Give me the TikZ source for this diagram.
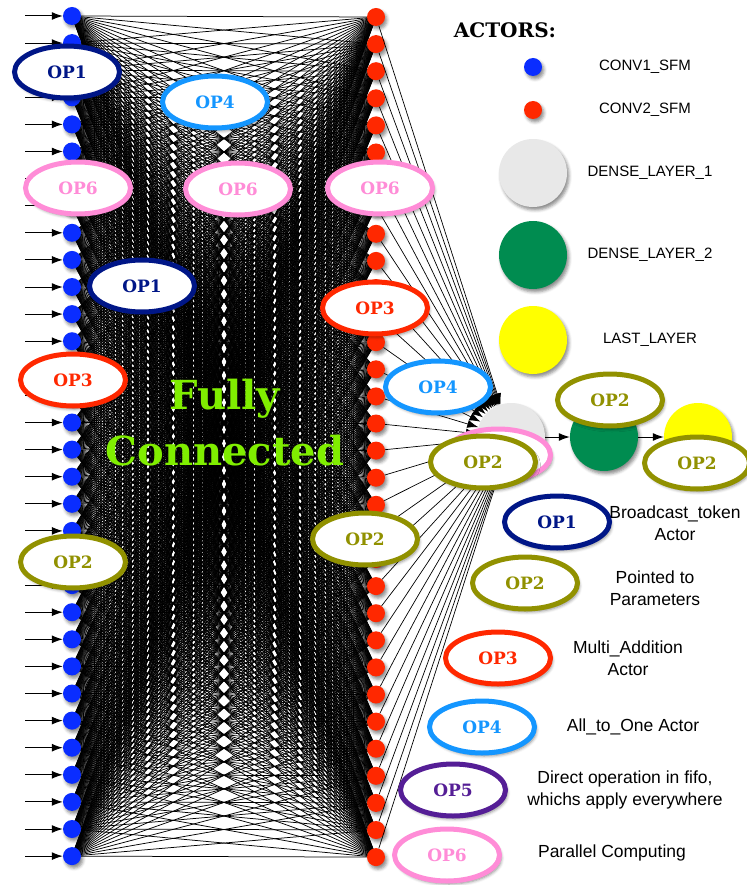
\documentclass[tikz,border=0pt]{standalone}
\usepackage{fontspec}
\setmainfont{Liberation Sans}
\newfontfamily\opfont{DejaVu Serif}
\usetikzlibrary{positioning, arrows.meta, shapes.geometric, shadows.blur}

\definecolor{convblue}{RGB}{10,45,255}
\definecolor{convred}{RGB}{255,40,0}
\definecolor{opnavy}{RGB}{0,22,135}
\definecolor{opolive}{RGB}{145,145,0}
\definecolor{opred}{RGB}{255,40,0}
\definecolor{opsky}{RGB}{20,150,255}
\definecolor{oppurple}{RGB}{85,30,150}
\definecolor{oppink}{RGB}{255,140,215}
\definecolor{densegray}{RGB}{232,232,232}
\definecolor{densegreen}{RGB}{0,140,80}
\definecolor{lastyellow}{RGB}{255,255,0}
\definecolor{fullgreen}{RGB}{128,238,0}

\begin{document}
\begin{tikzpicture}[x=1pt, y=-1pt, >={Latex[length=11pt, width=8pt]},
  soft/.style={blur shadow={shadow xshift=2pt, shadow yshift=-3pt, shadow blur radius=3pt, shadow opacity=45}},
  dot/.style={circle, minimum size=18pt, inner sep=0pt, soft},
  layer/.style={circle, minimum size=68pt, inner sep=0pt, soft},
  op/.style={ellipse, draw=#1, line width=5pt, fill=white, text=#1, minimum width=105pt, minimum height=52pt, inner sep=0pt, font=\opfont\bfseries\fontsize{17}{17}\selectfont, soft},
  key/.style={font=\fontsize{15}{18}\selectfont},
  keyop/.style={font=\fontsize{17.5}{22}\selectfont, align=center}]
  \useasboundingbox (0,0) rectangle (746,885);

  % positions of the two convolution columns
  \foreach \i in {1,...,32} {
    \coordinate (b\i) at (72, {16+(\i-1)*27.1});
    \coordinate (r\i) at (376, {17+(\i-1)*27.1});
  }

  % every blue dot to every red dot
  \foreach \i in {1,...,32}
    \foreach \j in {1,...,32}
      \draw[line width=0.75pt] (b\i) -- (r\j);

  \foreach \i in {1,...,32} {
    \node[dot, fill=convblue] (bdot\i) at (b\i) {};
    \node[dot, fill=convred] (rdot\i) at (r\i) {};
    \coordinate (in\i) at (25, {16+(\i-1)*27.1});
    \draw[->, line width=1pt] (in\i) -- (bdot\i);
  }

  \node[font=\opfont\bfseries\fontsize{40}{40}\selectfont, text=fullgreen, anchor=base] (fully) at (225, 409) {Fully};
  \node[font=\opfont\bfseries\fontsize{40}{40}\selectfont, text=fullgreen, anchor=base] (connected) at (225, 465) {Connected};

  % dense layers
  \node[layer, fill=densegray] (dense1) at (511, 437) {};
  \foreach \j in {1,...,32}
    \draw[->, line width=0.7pt] (rdot\j) -- (dense1);
  \node[layer, fill=densegreen] (dense2) at (604, 437) {};
  \node[layer, fill=lastyellow] (last) at (698, 437) {};
  \draw[->, line width=1pt] (dense1) -- (dense2);
  \draw[->, line width=1pt] (dense2) -- (last);

  % operations on the network
  \node[op=opnavy] (op1a) at (67, 72) {OP1};
  \node[op=opsky] (op4a) at (215, 102) {OP4};
  \node[op=oppink] (op6a) at (78, 188) {OP6};
  \node[op=oppink] (op6b) at (238, 189) {OP6};
  \node[op=oppink] (op6c) at (380, 188) {OP6};
  \node[op=opnavy] (op1b) at (142, 286) {OP1};
  \node[op=opred] (op3a) at (375, 308) {OP3};
  \node[op=opred] (op3b) at (73, 380) {OP3};
  \node[op=opsky] (op4b) at (438, 387) {OP4};
  \node[op=opolive] (op2a) at (73, 562) {OP2};
  \node[op=opolive] (op2b) at (365, 539) {OP2};
  \node[op=oppink] (op6d) at (498, 455) {};
  \node[op=opolive] (op2c) at (483, 462) {OP2};
  \node[op=opolive] (op2d) at (610, 400) {OP2};
  \node[op=opolive] (op2e) at (697, 463) {OP2};

  % legend
  \node[font=\opfont\bfseries\fontsize{20}{20}\selectfont] (actors) at (505, 30) {ACTORS:};
  \node[dot, fill=convblue] (keyconv1) at (533, 67) {};
  \node[key] (keyconv1txt) at (645, 67) {CONV1\_SFM};
  \node[dot, fill=convred] (keyconv2) at (533, 110) {};
  \node[key] (keyconv2txt) at (645, 110) {CONV2\_SFM};
  \node[layer, fill=densegray] (keydense1) at (533, 173) {};
  \node[key] (keydense1txt) at (650, 173) {DENSE\_LAYER\_1};
  \node[layer, fill=densegreen] (keydense2) at (533, 255) {};
  \node[key] (keydense2txt) at (650, 255) {DENSE\_LAYER\_2};
  \node[layer, fill=lastyellow] (keylast) at (533, 340) {};
  \node[key] (keylasttxt) at (650, 340) {LAST\_LAYER};

  \node[op=opnavy] (keyop1) at (557, 522) {OP1};
  \node[keyop] (keyop1txt) at (675, 523) {Broadcast\_token\\Actor};
  \node[op=opolive] (keyop2) at (525, 583) {OP2};
  \node[keyop] (keyop2txt) at (655, 588) {Pointed to\\Parameters};
  \node[op=opred] (keyop3) at (498, 658) {OP3};
  \node[keyop] (keyop3txt) at (628, 658) {Multi\_Addition\\Actor};
  \node[op=opsky] (keyop4) at (482, 727) {OP4};
  \node[keyop] (keyop4txt) at (633, 727) {All\_to\_One Actor};
  \node[op=oppurple] (keyop5) at (453, 790) {OP5};
  \node[keyop] (keyop5txt) at (625, 790) {Direct operation in fifo,\\whichs apply everywhere};
  \node[op=oppink] (keyop6) at (447, 855) {OP6};
  \node[keyop] (keyop6txt) at (612, 853) {Parallel Computing};
\end{tikzpicture}
\end{document}
